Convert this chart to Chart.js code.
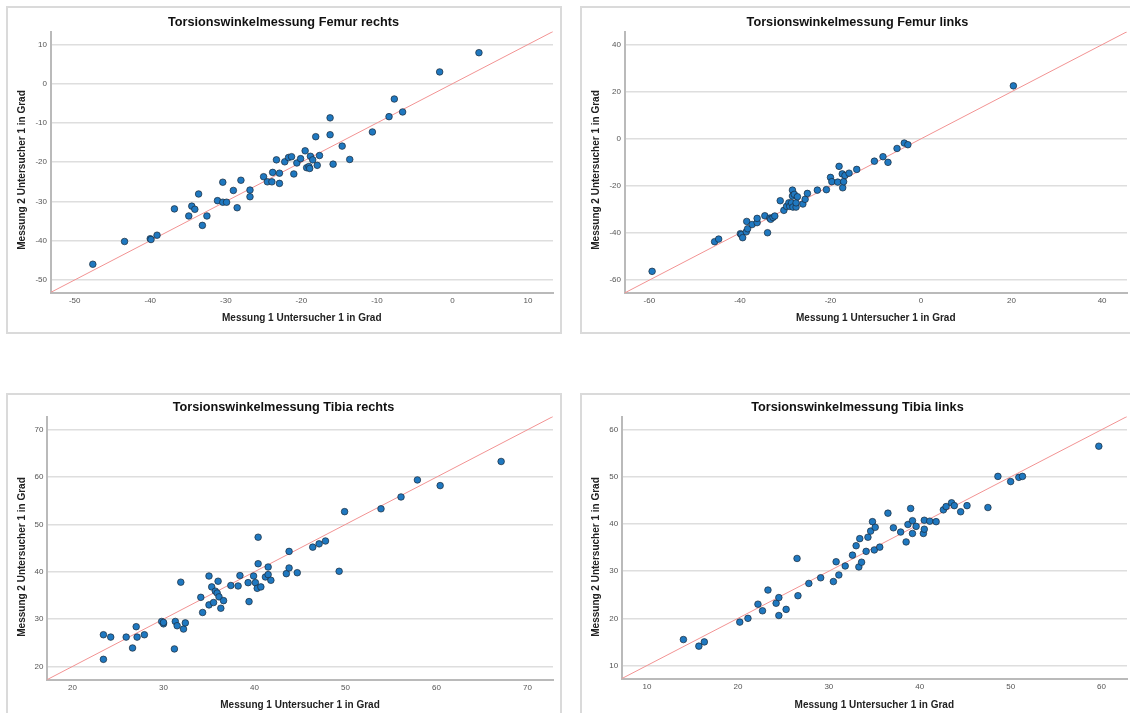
<!DOCTYPE html>
<html>
<head>
<meta charset="utf-8">
<title>Torsionswinkelmessung</title>
<script src="https://cdn.jsdelivr.net/npm/chart.js@4"></script>
<style>
  html, body { margin: 0; padding: 0; background: #fff; }
  body { width: 1130px; height: 713px; overflow: hidden; position: relative; }
  .panel { position: absolute; width: 552px; height: 324px; border: 2px solid #dadada; }
  .panel canvas { position: absolute; left: 0; top: 0; }
</style>
</head>
<body>
<div class="panel" style="left:6px;top:6px"><canvas id="femurRechts" width="552" height="324"></canvas></div>
<div class="panel" style="left:580px;top:6px"><canvas id="femurLinks" width="552" height="324"></canvas></div>
<div class="panel" style="left:6px;top:393px"><canvas id="tibiaRechts" width="552" height="324"></canvas></div>
<div class="panel" style="left:580px;top:393px"><canvas id="tibiaLinks" width="552" height="324"></canvas></div>
<script>
var FONT = "'Liberation Sans', Arial, sans-serif";
var xTitle = 'Messung 1 Untersucher 1 in Grad';
var yTitle = 'Messung 2 Untersucher 1 in Grad';

// Femur rechts: Messung 1 (x) / Messung 2 (y)
var femurRechtsM1 = [-47.6, -43.4, -40.0, -39.9, -39.1, -36.8, -34.9, -34.5, -34.1, -33.6,
  -33.1, -32.5, -31.1, -30.4, -30.4, -29.9, -29.0, -28.5, -28.0, -26.8,
  -26.8, -25.0, -24.5, -23.9, -23.8, -23.3, -22.9, -22.9, -22.2, -21.7,
  -21.3, -21.0, -20.6, -20.1, -19.5, -19.3, -19.0, -18.9, -18.8, -18.5,
  -18.1, -17.9, -17.6, -16.2, -16.2, -15.8, -14.6, -13.6, -10.6, -8.4,
  -7.7, -6.6, -1.7, 3.5];
var femurRechtsM2 = [-46.0, -40.2, -39.5, -39.7, -38.6, -31.9, -33.7, -31.2, -32.0, -28.1,
  -36.1, -33.7, -29.8, -30.2, -25.1, -30.2, -27.2, -31.6, -24.6, -27.1,
  -28.8, -23.7, -25.0, -25.0, -22.6, -19.4, -22.8, -25.4, -19.9, -18.8,
  -18.6, -23.0, -20.2, -19.1, -17.1, -21.4, -21.1, -21.6, -18.5, -19.4,
  -13.5, -20.8, -18.3, -8.7, -13.0, -20.5, -15.9, -19.3, -12.3, -8.4,
  -3.9, -7.2, 3.0, 7.9];

// Femur links
var femurLinksM1 = [-59.4, -45.6, -44.7, -39.9, -39.7, -39.4, -38.6, -38.5, -38.3, -37.3,
  -36.2, -36.2, -34.5, -33.9, -33.4, -33.2, -32.7, -32.3, -31.1, -30.3,
  -29.7, -29.2, -29.0, -28.6, -28.4, -28.4, -28.3, -28.0, -27.6, -27.6,
  -27.3, -26.1, -25.6, -25.1, -22.9, -20.9, -20.0, -19.7, -18.4, -18.1,
  -17.4, -17.3, -17.1, -16.8, -15.9, -14.2, -10.3, -8.4, -7.3, -5.3,
  -3.7, -2.9, 20.4];
var femurLinksM2 = [-56.3, -43.7, -42.6, -40.3, -40.7, -42.0, -39.5, -35.1, -38.2, -36.4,
  -35.6, -33.8, -32.7, -39.9, -33.7, -34.2, -33.4, -32.8, -26.3, -30.4,
  -28.7, -27.2, -28.7, -27.2, -21.8, -24.3, -29.0, -23.6, -29.0, -27.2,
  -24.6, -27.7, -25.7, -23.2, -21.8, -21.6, -16.4, -18.2, -18.4, -11.7,
  -14.9, -20.8, -18.2, -15.6, -14.6, -13.0, -9.5, -7.6, -10.0, -4.1,
  -1.8, -2.5, 22.5];

// Tibia rechts
var tibiaRechtsM1 = [23.4, 23.4, 24.2, 25.9, 26.6, 27.0, 27.1, 27.9, 29.8, 30.0,
  30.0, 31.2, 31.3, 31.5, 31.9, 32.2, 32.4, 34.1, 34.3, 35.0,
  35.0, 35.3, 35.5, 35.7, 35.9, 36.0, 36.1, 36.3, 36.6, 37.4,
  38.2, 38.4, 39.3, 39.4, 39.9, 40.1, 40.3, 40.4, 40.4, 40.7,
  41.2, 41.5, 41.5, 41.8, 43.5, 43.8, 43.8, 44.7, 46.4, 47.1,
  47.8, 49.3, 49.9, 53.9, 56.1, 57.9, 60.4, 67.1];
var tibiaRechtsM2 = [26.7, 21.5, 26.2, 26.2, 23.9, 28.4, 26.2, 26.7, 29.5, 29.0,
  29.3, 23.7, 29.5, 28.6, 37.8, 27.9, 29.2, 34.6, 31.4, 39.1,
  33.0, 36.8, 33.5, 35.9, 35.5, 38.0, 34.7, 32.3, 33.9, 37.1,
  37.0, 39.2, 37.7, 33.7, 39.1, 37.7, 36.5, 47.3, 41.7, 36.8,
  38.9, 41.0, 39.4, 38.2, 39.6, 44.3, 40.8, 39.8, 45.2, 45.9,
  46.5, 40.1, 52.7, 53.3, 55.8, 59.4, 58.2, 63.3];

// Tibia links
var tibiaLinksM1 = [14.0, 15.7, 16.3, 20.2, 21.1, 22.2, 22.7, 23.3, 24.2, 24.5,
  24.5, 25.3, 26.5, 26.6, 27.8, 29.1, 30.5, 30.8, 31.1, 31.8,
  32.6, 33.0, 33.3, 33.4, 33.6, 34.1, 34.3, 34.6, 34.8, 35.0,
  35.1, 35.6, 36.5, 37.1, 37.9, 38.5, 38.7, 39.0, 39.2, 39.2,
  39.6, 40.4, 40.5, 40.5, 41.1, 41.8, 42.6, 42.9, 43.5, 43.8,
  44.5, 45.2, 47.5, 48.6, 50.0, 50.9, 51.3, 59.7];
var tibiaLinksM2 = [15.5, 14.1, 15.0, 19.2, 20.0, 23.0, 21.6, 26.0, 23.2, 24.4,
  20.6, 21.9, 32.7, 24.8, 27.4, 28.6, 27.8, 32.0, 29.2, 31.1,
  33.4, 35.4, 30.9, 36.9, 31.9, 34.2, 37.2, 38.5, 40.5, 34.5,
  39.3, 35.1, 42.3, 39.2, 38.3, 36.2, 39.9, 43.3, 40.7, 38.0,
  39.5, 38.0, 38.9, 40.8, 40.6, 40.5, 43.0, 43.7, 44.5, 43.9,
  42.6, 43.9, 43.5, 50.1, 49.0, 49.9, 50.1, 56.5];

// axis ranges (same on x and y) and tick steps
var femurRechtsRange = [-53.2, 13.3];
var femurLinksRange = [-65.5, 45.5];
var tibiaRechtsRange = [17.2, 72.8];
var tibiaLinksRange = [7.2, 62.8];
var steps = [10, 20, 10, 10];

// rotated y-axis title, centred on the whole panel
var yTitlePlugin = {
  id: 'yTitle',
  afterDraw: function (chart, args, opts) {
    var ctx = chart.ctx;
    ctx.save();
    ctx.translate(opts.x, chart.height / 2);
    ctx.rotate(-Math.PI / 2);
    ctx.font = 'bold 10px ' + FONT;
    ctx.fillStyle = '#222';
    ctx.textAlign = 'center';
    ctx.textBaseline = 'middle';
    ctx.fillText(opts.text, 0, 0);
    ctx.restore();
  }
};

function makeChart(id, title, m1, m2, range, step, box) {
  var points = m1.map(function (x, i) { return { x: x, y: m2[i] }; });
  var diagonal = [{ x: range[0], y: range[0] }, { x: range[1], y: range[1] }];
  var tickFont = { family: FONT, size: 8 };

  return new Chart(document.getElementById(id), {
    type: 'scatter',
    data: {
      datasets: [
        {
          data: points,
          pointRadius: 3.3,
          pointBackgroundColor: '#1f78c0',
          pointBorderColor: '#1b2a38',
          pointBorderWidth: 0.7
        },
        {
          type: 'line',
          data: diagonal,
          borderColor: '#f29393',
          borderWidth: 1,
          pointRadius: 0,
          fill: false
        }
      ]
    },
    options: {
      responsive: false,
      animation: false,
      events: [],
      layout: { padding: { left: 6, right: 7, top: 0, bottom: 0 } },
      plugins: {
        legend: { display: false },
        tooltip: { enabled: false },
        title: {
          display: true,
          text: title,
          color: '#111',
          font: { family: FONT, size: 12.7, weight: 'bold' },
          padding: { top: box.titleY - 7.62, bottom: box.top - box.titleY - 7.62 }
        },
        yTitle: { text: yTitle, x: 14.5 }
      },
      scales: {
        x: {
          type: 'linear',
          min: range[0],
          max: range[1],
          grid: { display: false, drawTicks: false },
          border: { color: '#bababa', width: 2 },
          ticks: { stepSize: step, includeBounds: false, padding: 3, color: '#555', font: tickFont },
          title: {
            display: true,
            text: xTitle,
            color: '#222',
            font: { family: FONT, size: 10, weight: 'bold' },
            padding: { top: 0, bottom: 7.5 }
          },
          afterFit: function (s) { s.height = 324 - box.bottom; }
        },
        y: {
          type: 'linear',
          min: range[0],
          max: range[1],
          grid: { color: '#dedede', lineWidth: 1.5, drawTicks: false },
          border: { color: '#bababa', width: 2 },
          ticks: { stepSize: step, includeBounds: false, padding: 3.5, color: '#555', font: tickFont },
          afterFit: function (s) { s.width = box.left - 6; }
        }
      }
    },
    plugins: [yTitlePlugin]
  });
}

makeChart('femurRechts', 'Torsionswinkelmessung Femur rechts', femurRechtsM1, femurRechtsM2,
  femurRechtsRange, steps[0], { left: 42.5, top: 23.5, bottom: 284.5, titleY: 14 });
makeChart('femurLinks', 'Torsionswinkelmessung Femur links', femurLinksM1, femurLinksM2,
  femurLinksRange, steps[1], { left: 42.5, top: 23.7, bottom: 285, titleY: 14 });
makeChart('tibiaRechts', 'Torsionswinkelmessung Tibia rechts', tibiaRechtsM1, tibiaRechtsM2,
  tibiaRechtsRange, steps[2], { left: 39, top: 21.5, bottom: 284.7, titleY: 12.7 });
makeChart('tibiaLinks', 'Torsionswinkelmessung Tibia links', tibiaLinksM1, tibiaLinksM2,
  tibiaLinksRange, steps[3], { left: 39.6, top: 21.5, bottom: 283.7, titleY: 12.7 });
</script>
</body>
</html>
